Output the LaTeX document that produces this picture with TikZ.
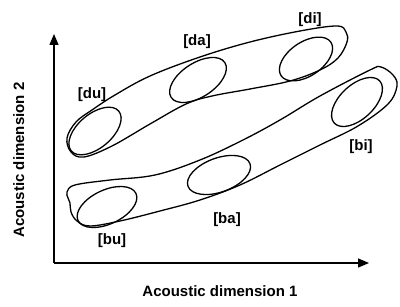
\documentclass[tikz,border=0pt]{standalone}
\usepackage{fontspec}
\setmainfont{Liberation Sans}
\usetikzlibrary{arrows.meta}
\begin{document}
\begin{tikzpicture}[x=1pt,y=-1pt,
  line/.style={line width=1.3pt,line join=round},
  axis/.style={line width=1.3pt,-{Triangle[length=11pt,width=9pt]}},
  lab/.style={font=\fontsize{15}{18}\selectfont\bfseries,inner sep=0pt,anchor=base}]
\useasboundingbox (0,0) rectangle (400,307);
% axes
\coordinate (O) at (54,263);
\coordinate (Y) at (54,34);
\coordinate (X) at (369,263);
\draw[axis] (O) -- (Y);
\draw[axis] (O) -- (X);
\node[lab] (xl) at (220,297) {Acoustic dimension 1};
\node[lab,rotate=90] (yl) at (24,160) {Acoustic dimension 2};
% category ellipses
\draw[line,rotate around={40:(95,131)}] (95,131) ellipse [x radius=31,y radius=17];
\draw[line,rotate around={33:(198,80)}] (198,80) ellipse [x radius=32,y radius=17];
\draw[line,rotate around={34:(306,59)}] (306,59) ellipse [x radius=30,y radius=17];
\draw[line,rotate around={43:(357,102)}] (357,102) ellipse [x radius=31,y radius=17];
\draw[line,rotate around={20:(219,175)}] (219,175) ellipse [x radius=33,y radius=17];
\draw[line,rotate around={25:(107,207)}] (107,207) ellipse [x radius=32,y radius=17];
% outer regions
\draw[line] plot[smooth cycle,tension=0.6] coordinates {
  (67,138) (76,122) (92,110) (115,95) (150,76) (200,57) (250,42) (300,31)
  (337,26) (346,32) (347,42) (338,58) (320,70) (290,81) (250,89) (212,96)
  (186,104) (150,124) (112,146) (84,157) (71,152)};
\draw[line] plot[smooth cycle,tension=0.6] coordinates {
  (67,192) (75,185) (110,180) (155,175) (200,160) (243,140) (280,120) (320,96)
  (370,70) (381,67) (393,75) (397,86) (388,104) (358,126) (320,145)
  (280,165) (240,185) (200,200) (160,211) (120,221) (90,226) (77,221) (71,212)
  (70,203) (68,198)};
% labels
\node[lab] (du) at (92,99) {[du]};
\node[lab] (da) at (197,46) {[da]};
\node[lab] (di) at (310,24) {[di]};
\node[lab] (bi) at (361,151) {[bi]};
\node[lab] (ba) at (227,224) {[ba]};
\node[lab] (bu) at (112,245) {[bu]};
\end{tikzpicture}
\end{document}
